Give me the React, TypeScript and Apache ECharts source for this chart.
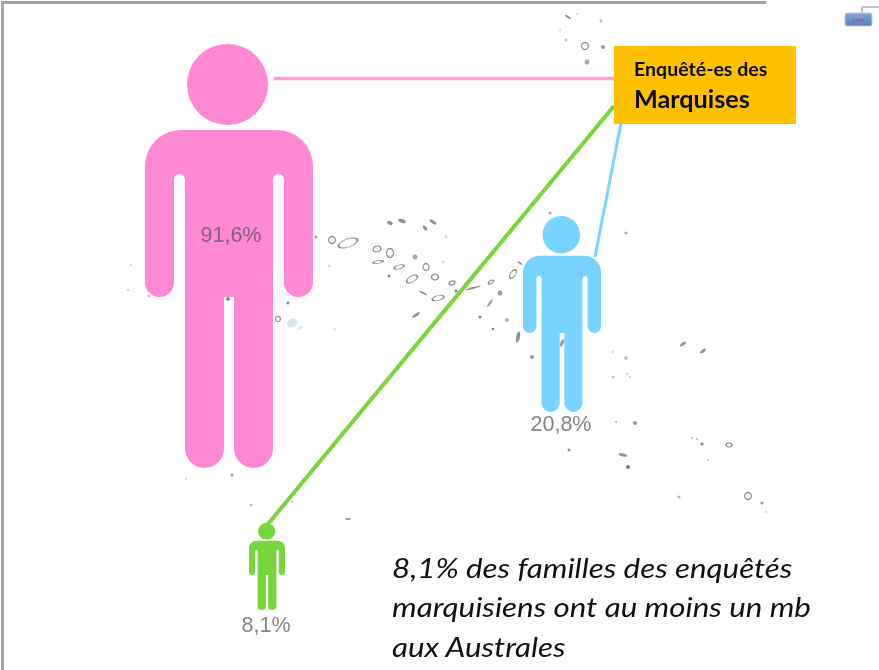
import React, { useEffect, useRef } from "react";
import * as echarts from "echarts";

const PAGE_W = 879;
const PAGE_H = 670;

// Values
const groups = ["Marquises", "Tuamotu", "Australes"];
const shares = [91.6, 20.8, 8.1];
const colors = ["#FF88D5", "#78D4FF", "#77D63C"];
const linkColors = ["#FF9ADB", "#78D4FF", "#77D63C"];

// Page layout of the pictograms: [centre x, centre y, width, height]
const personBoxes = [
  [229, 256, 168, 424],
  [562, 314, 78, 196],
  [267, 566.5, 36, 87],
];
const labelOffsets = [
  [2, -21],
  [-1, 110],
  [-1, 58],
];

// Links from the card to each person
const links = [
  [[274, 78.5], [614, 78.5]],
  [[595, 257], [621, 123]],
  [[268, 524], [614, 106]],
];
const linkWidths = [3.5, 3, 4];

// Body outline, in its own units
const PERSON =
  "path://M187 84.5a40.5 40.5 0 1 1 81 0a40.5 40.5 0 1 1-81 0Z" +
  "M181 130H277A36 36 0 0 1 313 166V282.5A14.5 14.5 0 0 1 284 282.5V179.5A5.5 5.5 0 0 0 273 179.5V448.5A19.5 19.5 0 0 1 234 448.5V297H224V448.5A19.5 19.5 0 0 1 185 448.5V179.5A5.5 5.5 0 0 0 174 179.5V282.5A14.5 14.5 0 0 1 145 282.5V166A36 36 0 0 1 181 130Z";

// Background map: islands outlined [x, y, w, h, rotation]
const islandOutlines = [
  [332, 240, 7, 7, 0], [348, 243, 20, 8, 20], [377, 249, 8, 6, 10], [390, 253, 7, 9, 0],
  [378, 262, 10, 3, 10], [399, 267, 10, 4, 15], [412, 279, 12, 6, 30], [426, 267, 6, 7, 0],
  [435, 277, 7, 6, 0], [438, 298, 12, 5, 15], [452, 283, 6, 4, 20], [491, 282, 6, 3, 30],
  [513, 274, 5, 10, -35], [585, 46, 7, 7, 0],
  [729, 445, 6, 4, 0], [748, 496, 7, 7, 0], [278, 319, 5, 5, 0],
];
// Background map: small strokes [x, y, w, h, rotation]
const islandDashes = [
  [390, 223, 6, 4, -20], [402, 221, 8, 4, -20], [425, 228, 6, 3, -50], [433, 222, 8, 3, -35],
  [423, 293, 9, 2, -25], [416, 315, 9, 3, 35], [473, 288, 16, 2, 15], [568, 17, 7, 2, -35],
  [683, 344, 7, 3, 35], [703, 351, 7, 3, 35], [623, 455, 9, 3, -15], [562, 343, 3, 8, -20],
  [520, 263, 6, 2, -35], [348, 519, 6, 2, 0], [490, 303, 9, 2, 55], [518, 337, 4, 11, -10],
];
// Background map: specks [x, y, size, opacity]
const islandSpecks = [
  [316, 237, 3, 0.7], [415, 257, 5, 0.6], [389, 276, 3, 0.8], [446, 237, 3, 0.3], [443, 262, 3, 0.3],
  [329, 266, 3, 0.25], [335, 329, 3, 0.2], [456, 291, 3, 0.9], [500, 293, 5, 0.7], [480, 317, 3, 0.9],
  [493, 329, 2.5, 0.9], [507, 320, 4, 0.5], [577, 14, 2, 0.3], [601, 21, 3, 0.5], [560, 30, 2, 0.3],
  [566, 40, 3, 0.4], [603, 47, 4, 0.7], [587, 62, 5, 0.6], [626, 358, 4, 0.4], [613, 352, 2, 0.3],
  [613, 377, 3, 0.4], [627, 374, 3, 0.3], [630, 377, 2, 0.4], [616, 422, 2, 0.5], [635, 423, 4, 0.7],
  [569, 450, 3, 0.7], [628, 467, 4, 0.9], [692, 438, 2, 0.4], [697, 439, 2, 0.5], [702, 444, 3, 0.9],
  [708, 460, 2, 0.35], [679, 497, 3, 0.5], [762, 503, 3, 0.7], [766, 512, 2, 0.3], [550, 213, 3, 0.6],
  [626, 233, 3, 0.6], [532, 357, 4, 0.7], [149, 296, 3, 0.4], [228, 299, 4, 0.8], [288, 303, 3, 0.8],
  [232, 475, 3, 0.7], [186, 479, 2, 0.3], [131, 265, 2, 0.3], [128, 290, 2, 0.4], [251, 505, 3, 0.5],
  [292, 502, 2, 0.4], [515, 225, 2, 0.3],
];
// Background map: pale lagoon [x, y, w, h, rotation]
const lagoons = [
  [292, 323, 11, 8, 25], [300, 328, 6, 3, 25],
];

// Texts
const cardLines = ["Enquêté-es des", "Marquises"];
const noteLines = [
  "8,1% des familles des enquêtés",
  "marquisiens ont au moins un mb",
  "aux Australes",
];
const iconCaption = "Lafar";

const formatShare = (v: number) => v.toFixed(1).replace(".", ",") + "%";

function buildOption() {
  const mapShape = (data: number[][], id: string, z: number, itemStyle: any) => ({
    id,
    type: "scatter",
    z,
    silent: true,
    data: data.map((d) => [d[0], d[1]]),
    symbol: "circle",
    symbolSize: (_: any, p: any) => [data[p.dataIndex][2], data[p.dataIndex][3]],
    symbolRotate: (_: any, p: any) => data[p.dataIndex][4],
    itemStyle,
  });

  return {
    animation: false,
    backgroundColor: "#ffffff",
    grid: { left: 0, right: 0, top: 0, bottom: 0 },
    xAxis: { type: "value", min: 0, max: PAGE_W, show: false },
    yAxis: { type: "value", min: 0, max: PAGE_H, inverse: true, show: false },
    series: [
      mapShape(islandOutlines, "outlines", 1, {
        color: "rgba(255,255,255,0)",
        borderColor: "#6e6e6e",
        borderWidth: 1.2,
        opacity: 0.8,
      }),
      mapShape(islandDashes, "dashes", 1, { color: "#777777", opacity: 0.8 }),
      mapShape(lagoons, "lagoons", 1, { color: "#cfdfe9" }),
      {
        id: "specks",
        type: "scatter",
        z: 1,
        silent: true,
        data: islandSpecks.map((s) => ({
          value: [s[0], s[1]],
          symbolSize: s[2],
          itemStyle: { color: "#707070", opacity: s[3] },
        })),
      },
      ...links.map((pts, i) => ({
        id: "link" + i,
        type: "line",
        z: 3,
        silent: true,
        data: pts,
        showSymbol: false,
        lineStyle: { color: linkColors[i], width: linkWidths[i], cap: "butt" },
      })),
      {
        id: "people",
        type: "scatter",
        z: 4,
        silent: true,
        data: shares.map((v, i) => ({
          name: groups[i],
          value: [personBoxes[i][0], personBoxes[i][1], v],
          symbol: PERSON,
          symbolKeepAspect: false,
          symbolSize: [personBoxes[i][2], personBoxes[i][3]],
          itemStyle: { color: colors[i], opacity: 1 },
          label: {
            show: true,
            position: "inside",
            offset: labelOffsets[i],
            formatter: formatShare(v),
            fontFamily: "Liberation Sans",
            fontSize: 21.5,
            color: i === 0 ? "#7d6478" : "#858585",
          },
        })),
      },
    ],
    graphic: [
      { type: "rect", z: 10, shape: { x: 1, y: 1, width: 765, height: 3 }, style: { fill: "#a3a3a3" } },
      { type: "rect", z: 10, shape: { x: 1, y: 1, width: 3, height: 669 }, style: { fill: "#a9a9a9" } },
      { type: "rect", z: 10, shape: { x: 614, y: 46, width: 182, height: 78 }, style: { fill: "#FFC000" } },
      {
        type: "text",
        z: 11,
        x: 634,
        y: 69,
        scaleX: 1.03,
        originX: 0,
        style: { text: cardLines[0], fontFamily: "Lato", fontWeight: "bold", fontSize: 19, fill: "#0a0a0a", verticalAlign: "middle" },
      },
      {
        type: "text",
        z: 11,
        x: 634,
        y: 99,
        scaleX: 1.05,
        originX: 0,
        style: { text: cardLines[1], fontFamily: "Lato", fontWeight: "bold", fontSize: 24, fill: "#0a0a0a", verticalAlign: "middle" },
      },
      ...noteLines.map((t, i) => ({
        type: "text",
        z: 11,
        x: 392,
        y: 567 + i * 39.5,
        scaleX: 1.14,
        originX: 0,
        style: { text: t, fontFamily: "Lato", fontStyle: "italic", fontSize: 27.5, fill: "#111111", verticalAlign: "middle" },
      })),
      { type: "polyline", z: 11, shape: { points: [[862, 14], [862, 7], [879, 7]] }, style: { stroke: "#6a92c4", lineWidth: 1, fill: "none" } },
      {
        type: "rect",
        z: 11,
        shape: { x: 845, y: 13, width: 27, height: 13, r: 2 },
        style: {
          fill: {
            type: "linear", x: 0, y: 0, x2: 0, y2: 1,
            colorStops: [{ offset: 0, color: "#86a6d4" }, { offset: 1, color: "#5a7fb5" }],
          },
          stroke: "#c3ccd8",
          lineWidth: 1,
        },
      },
      {
        type: "text",
        z: 12,
        x: 858.5,
        y: 20,
        style: { text: iconCaption, fontFamily: "Liberation Sans", fontWeight: "bold", fontSize: 5, fill: "#e0359a", align: "center", verticalAlign: "middle" },
      },
    ],
  };
}

export default function App() {
  const ref = useRef<HTMLDivElement>(null);
  useEffect(() => {
    document.body.style.margin = "0";
    const chart = echarts.init(ref.current!, undefined, { renderer: "svg" });
    chart.setOption(buildOption() as any);
    return () => chart.dispose();
  }, []);
  return <div ref={ref} style={{ width: PAGE_W, height: PAGE_H, filter: "blur(0.4px)" }} />;
}
